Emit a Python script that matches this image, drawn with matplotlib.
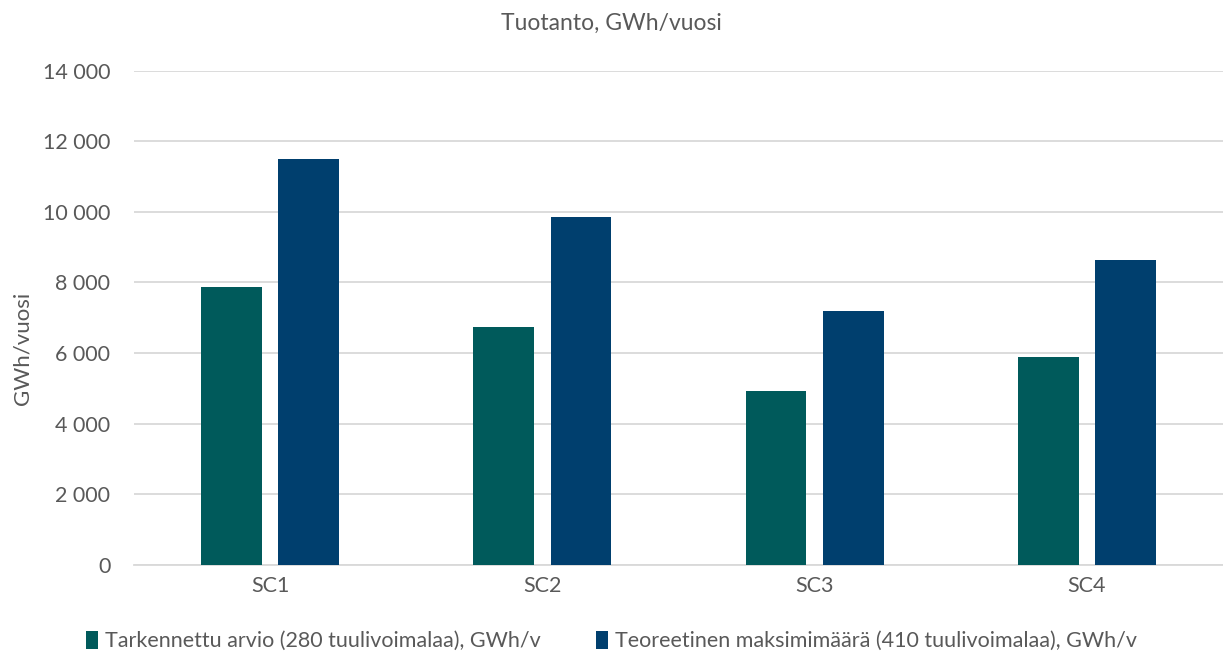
import numpy as np
import matplotlib.pyplot as plt
from matplotlib.ticker import FuncFormatter

plt.rcParams['font.family'] = ['Lato', 'DejaVu Sans']

# Data
categories = ['SC1', 'SC2', 'SC3', 'SC4']
tarkennettu = [7870, 6730, 4930, 5900]      # 280 tuulivoimalaa
teoreettinen = [11500, 9860, 7200, 8630]    # 410 tuulivoimalaa
series_labels = ['Tarkennettu arvio (280 tuulivoimalaa), GWh/v',
                 'Teoreetinen maksimimäärä (410 tuulivoimalaa), GWh/v']

teal = '#005A5B'
navy = '#003F6E'
text_col = '#595959'
grid_col = '#D9D9D9'

fig = plt.figure(figsize=(12.23, 6.62), dpi=100)
ax = fig.add_axes([0.1096, 0.1465, 0.8904, 0.747])

x = np.arange(len(categories))
w = 0.223
off = 0.142
ax.bar(x - off, tarkennettu, width=w, color=teal, label=series_labels[0], zorder=3)
ax.bar(x + off, teoreettinen, width=w, color=navy, label=series_labels[1], zorder=3)

ax.set_xlim(-0.5, len(categories) - 0.5)
ax.set_ylim(0, 14000)
ax.set_yticks(np.arange(0, 14001, 2000))
ax.yaxis.set_major_formatter(FuncFormatter(lambda v, p: f'{int(v):,}'.replace(',', ' ')))
ax.set_xticks(x)
ax.set_xticklabels(categories)

ax.grid(axis='y', color=grid_col, linewidth=1.3, zorder=0)
for s in ['top', 'right', 'left']:
    ax.spines[s].set_visible(False)
ax.spines['bottom'].set_color(grid_col)
ax.spines['bottom'].set_linewidth(1.3)
ax.tick_params(axis='both', length=0, labelsize=15.5, colors=text_col)
ax.tick_params(axis='y', pad=17)
ax.tick_params(axis='x', pad=8)

# y-axis title placed in figure coords so it is not clipped
fig.text(0.018, 0.4735, 'GWh/vuosi', rotation=90, ha='center', va='center',
         fontsize=16, color=text_col)
fig.text(0.5, 0.965, 'Tuotanto, GWh/vuosi', ha='center', va='center', fontsize=16.5, color=text_col)

leg = fig.legend(loc='center', bbox_to_anchor=(0.5, 0.032), ncol=2, frameon=False,
                 fontsize=15.5, handlelength=0.55, handleheight=0.9, handletextpad=0.3,
                 columnspacing=2.6, labelcolor=text_col)

fig.savefig('out.png', dpi=100)
